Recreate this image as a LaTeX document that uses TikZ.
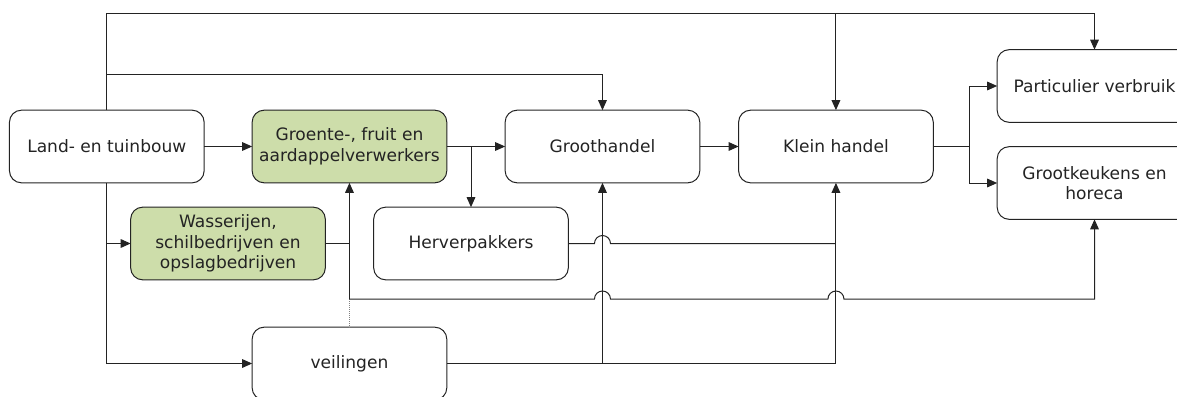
\documentclass[tikz,border=0pt]{standalone}
\usepackage{fontspec}
\setmainfont{DejaVu Sans}
\usetikzlibrary{arrows.meta,positioning,calc}
\definecolor{procgreen}{RGB}{205,221,170}
\definecolor{linegray}{RGB}{35,35,35}

\begin{document}
\begin{tikzpicture}[
    x=0.75pt, y=0.75pt,
    font=\fontsize{12.8}{15.5}\selectfont,
    line width=0.75pt,
    color=linegray,
    block/.style={rectangle, draw, rounded corners=9pt, align=center, minimum width=146pt, minimum height=54.5pt, inner sep=0pt, outer sep=0pt},
    proc/.style={block, fill=procgreen},
    arrow/.style={-{Triangle[length=7.5pt, width=6.5pt]}}
]
\useasboundingbox (0,0) rectangle (1177,-396);

% chain
\node[block] (land) at (106.8,-146.5) {Land- en tuinbouw};
\node[proc, right=36pt of land] (verw) {Groente-, fruit en\\aardappelverwerkers};
\node[block, right=43.75pt of verw] (groot) {Groothandel};
\node[block, right=29.1pt of groot] (klein) {Klein handel};
\node[block] (parti) at (1094.5,-86) {Particulier verbruik};
\node[block, below=18.25pt of parti] (grootk) {Grootkeukens en\\horeca};

% second row
\node[proc] (was) at (228,-243.5) {Wasserijen,\\schilbedrijven en\\opslagbedrijven};
\node[block, right=36.25pt of was] (herv) {Herverpakkers};
\node[block, below=108.25pt of verw] (veil) {veilingen};

\coordinate (ytop) at (0,-13);
\coordinate (ymid) at (0,-74);
\coordinate (ylow) at (0,-299);

\draw[arrow] (land) -- (verw);
\draw[arrow] (verw) -- (groot);
\draw[arrow] (groot) -- (klein);
\draw[arrow] (verw.east -| herv.north) -- (herv.north);
\draw[arrow] (klein.east) -- ++(36,0) coordinate (split) |- (parti.west);
\draw[arrow] (split) |- (grootk.west);

\draw[arrow] (land.north) -- (land.north |- ytop) -| (parti.north);
\draw[arrow] (ytop -| klein.north) -- (klein.north);
\draw[arrow] (land.north |- ymid) -| (groot.north);

\draw[arrow] (land.south) |- (veil.west);
\draw[arrow] (land.south |- was.west) -- (was.west);

\draw (was.east) -- (was.east -| verw.south);
\draw[arrow] (ylow -| verw.south) -- (verw.south);
\draw[densely dotted, line width=0.5pt, gray] (veil.north) -- (ylow -| veil.north);

% lines with hops
\draw (herv.east) -- ($(herv.east -| groot.south)+(-8,0)$) arc[start angle=180, end angle=0, radius=8] -- (herv.east -| klein.south);
\draw[arrow] (ylow -| verw.south) -- ($(ylow -| groot.south)+(-8,0)$) arc[start angle=180, end angle=0, radius=8]
    -- ($(ylow -| klein.south)+(-8,0)$) arc[start angle=180, end angle=0, radius=8] -| (grootk.south);

\draw[arrow] (veil.east) -| (klein.south);
\draw[arrow] (veil.east -| groot.south) -- (groot.south);

\end{tikzpicture}
\end{document}
